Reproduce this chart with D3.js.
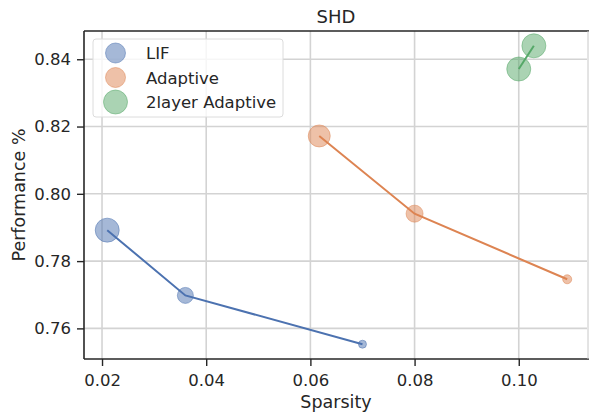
<!DOCTYPE html>
<html>
<head>
<meta charset="utf-8">
<script src="https://cdn.jsdelivr.net/npm/d3@7"></script>
<style>
  body { margin: 0; background: #fff; }
  text { font-family: "DejaVu Sans", sans-serif; fill: #262626; }
</style>
</head>
<body>
<svg id="chart" width="589" height="417"></svg>
<script>
'use strict';

// data
const seriesNames = ['LIF', 'Adaptive', '2layer Adaptive'];
const seriesColors = ['#4c72b0', '#dd8452', '#55a868'];
const lifSparsity = [0.021, 0.036, 0.070];
const lifPerf = [0.7892, 0.7698, 0.7553];
const lifSize = [12, 8, 4];
const adaptSparsity = [0.0617, 0.080, 0.1093];
const adaptPerf = [0.8172, 0.7941, 0.7746];
const adaptSize = [11, 8.5, 4.5];
const twoSparsity = [0.100, 0.1029];
const twoPerf = [0.8371, 0.8440];
const twoSize = [12, 12];
const xTicks = [0.02, 0.04, 0.06, 0.08, 0.10];
const yTicks = [0.76, 0.78, 0.80, 0.82, 0.84];

const series = [
    {xs: lifSparsity, ys: lifPerf, r: lifSize},
    {xs: adaptSparsity, ys: adaptPerf, r: adaptSize},
    {xs: twoSparsity, ys: twoPerf, r: twoSize}
];

const svg = d3.select('#chart');
const padL = 84, padR = 587, padT = 31, padB = 359;

const x = d3.scaleLinear().domain([0.01654, 0.1131]).range([padL, padR]);
const y = d3.scaleLinear().domain([0.7509, 0.8484]).range([padB, padT]);

// grid
svg.append('g').selectAll('line').data(xTicks).enter().append('line')
    .attr('x1', d => x(d)).attr('x2', d => x(d))
    .attr('y1', padT).attr('y2', padB)
    .attr('stroke', '#d3d3d3').attr('stroke-width', 1.6);
svg.append('g').selectAll('line').data(yTicks).enter().append('line')
    .attr('y1', d => y(d)).attr('y2', d => y(d))
    .attr('x1', padL).attr('x2', padR)
    .attr('stroke', '#d3d3d3').attr('stroke-width', 1.6);

// lines and dots
series.forEach((s, i) => {
    const pts = s.xs.map((v, j) => [v, s.ys[j], s.r[j]]);
    svg.append('path')
        .datum(pts)
        .attr('d', d3.line().x(d => x(d[0])).y(d => y(d[1])))
        .attr('fill', 'none')
        .attr('stroke', seriesColors[i])
        .attr('stroke-width', 2);
    svg.append('g').selectAll('circle').data(pts).enter().append('circle')
        .attr('cx', d => x(d[0])).attr('cy', d => y(d[1])).attr('r', d => d[2])
        .attr('fill', seriesColors[i]).attr('fill-opacity', 0.5)
        .attr('stroke', seriesColors[i]).attr('stroke-opacity', 0.5);
});

// axes
const xAxis = svg.append('g').attr('transform', `translate(0,${padB})`)
    .call(d3.axisBottom(x).tickValues(xTicks).tickFormat(d3.format('.2f')).tickSize(7).tickPadding(8));
const yAxis = svg.append('g').attr('transform', `translate(${padL},0)`)
    .call(d3.axisLeft(y).tickValues(yTicks).tickFormat(d3.format('.2f')).tickSize(7).tickPadding(6));
[xAxis, yAxis].forEach(a => {
    a.select('.domain').remove();
    a.selectAll('line').attr('stroke', '#262626').attr('stroke-width', 1.4);
    a.selectAll('text').attr('font-size', 16.5).attr('fill', '#262626')
        .style('font-family', '"DejaVu Sans", sans-serif');
});

// spines
svg.append('line').attr('x1', padL).attr('x2', padL).attr('y1', padT).attr('y2', padB)
    .attr('stroke', '#262626').attr('stroke-width', 1.6);
svg.append('line').attr('x1', padL).attr('x2', padR + 2).attr('y1', padB).attr('y2', padB)
    .attr('stroke', '#262626').attr('stroke-width', 1.6);
svg.append('line').attr('x1', padL).attr('x2', padR + 2).attr('y1', padT).attr('y2', padT)
    .attr('stroke', '#262626').attr('stroke-width', 1.6);
svg.append('line').attr('x1', padR + 1).attr('x2', padR + 1).attr('y1', padT).attr('y2', padB)
    .attr('stroke', '#c8c8c8').attr('stroke-width', 1);

// labels
svg.append('text').attr('x', 336).attr('y', 22.5).attr('text-anchor', 'middle')
    .attr('font-size', 18).text('SHD');
svg.append('text').attr('x', 336).attr('y', 408).attr('text-anchor', 'middle')
    .attr('font-size', 17.5).text('Sparsity');
svg.append('text').attr('transform', `translate(25,${(padT + padB) / 2}) rotate(-90)`)
    .attr('text-anchor', 'middle').attr('font-size', 17.5).text('Performance %');

// legend
const lg = svg.append('g');
lg.append('rect').attr('x', 93).attr('y', 39).attr('width', 190).attr('height', 78).attr('rx', 3)
    .attr('fill', '#fff').attr('fill-opacity', 0.8).attr('stroke', '#dcdcdc');
const legendR = [10, 10, 12];
seriesNames.forEach((name, i) => {
    const cy = 53 + i * 24.5;
    lg.append('circle').attr('cx', 115.5).attr('cy', cy).attr('r', legendR[i])
        .attr('fill', seriesColors[i]).attr('fill-opacity', 0.5)
        .attr('stroke', seriesColors[i]).attr('stroke-opacity', 0.5);
    lg.append('text').attr('x', 146).attr('y', cy + 6).attr('font-size', 16.5).text(name);
});
</script>
</body>
</html>
